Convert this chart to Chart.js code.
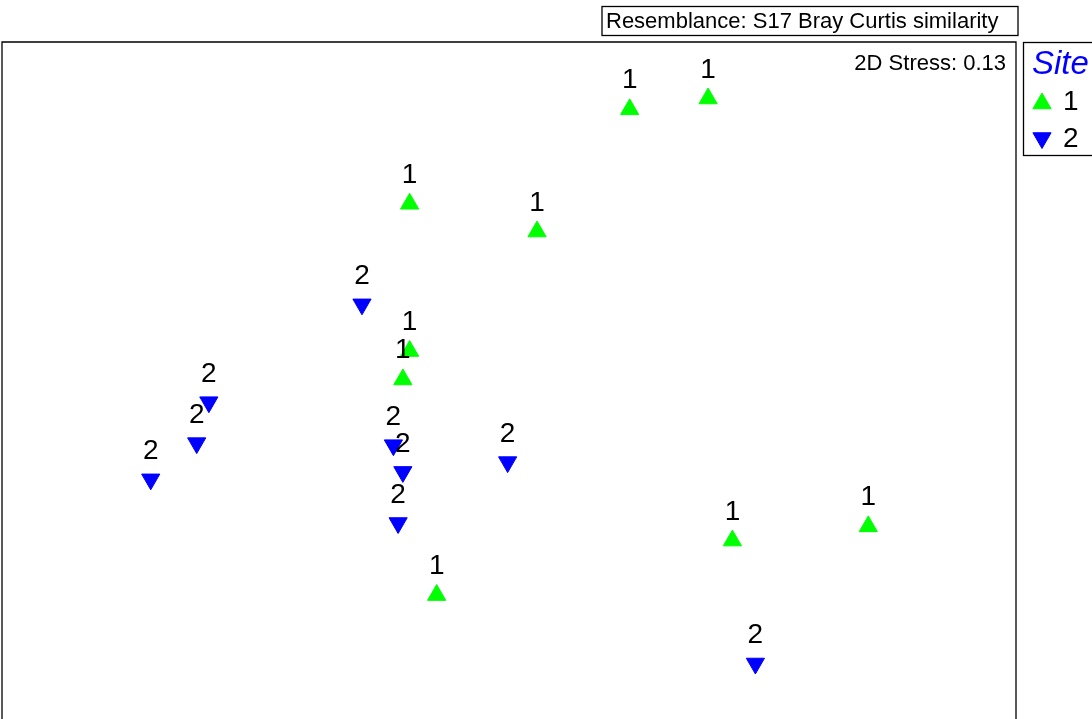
<!DOCTYPE html>
<html>
<head>
<meta charset="utf-8">
<script src="https://cdn.jsdelivr.net/npm/chart.js@4.4.0/dist/chart.umd.min.js"></script>
<style>
  body { margin: 0; background: #fff; }
  canvas { display: block; }
</style>
</head>
<body>
<canvas id="mds-chart" width="1092" height="719"></canvas>
<script>
// nMDS ordination, two sites
var siteNames = ['1', '2'];

// Site 1 coordinates (MDS1, MDS2)
var site1X = [0.357, 0.589, -0.294, 0.083, -0.294, -0.314, 0.661, 1.063, -0.214];
var site1Y = [0.801, 0.833, 0.522, 0.440, 0.087, 0.003, -0.473, -0.431, -0.634];

// Site 2 coordinates
var site2X = [-0.435, -0.888, -0.924, -1.060, -0.342, -0.314, -0.004, -0.328, 0.729];
var site2Y = [0.225, -0.064, -0.185, -0.292, -0.191, -0.270, -0.241, -0.421, -0.836];

var titleText = 'Resemblance: S17 Bray Curtis similarity';
var stressText = '2D Stress: 0.13';
var legendTitle = 'Site';

var FONT = '"Liberation Sans", Arial, sans-serif';
var green = '#00ff00';
var blue = '#0000ff';

function toPoints(xs, ys) {
  return xs.map((xVal, i) => ({ x: xVal, y: ys[i] }));
}

// Draw a triangle marker outside the chart area (legend)
function marker(ctx, x, y, rot, colour) {
  ctx.save();
  ctx.fillStyle = colour;
  ctx.strokeStyle = colour;
  ctx.lineWidth = 1;
  Chart.helpers.drawPoint(ctx, { pointStyle: 'triangle', rotation: rot, radius: 10.5, borderWidth: 1 }, x, y);
  ctx.restore();
}

var decorPlugin = {
  id: 'decor',
  afterDatasetsDraw: function (chart) {
    var ctx = chart.ctx;
    // point labels above each marker
    ctx.save();
    ctx.font = '28px ' + FONT;
    ctx.fillStyle = '#000';
    ctx.textAlign = 'center';
    ctx.textBaseline = 'alphabetic';
    chart.data.datasets.forEach((ds, di) => {
      var meta = chart.getDatasetMeta(di);
      meta.data.forEach((pt) => {
        ctx.fillText(ds.label, pt.x, pt.y - (di == 0 ? 21 : 20));
      });
    });
    ctx.restore();
  },
  afterDraw: function (chart) {
    var ctx = chart.ctx;
    var a = chart.chartArea;
    ctx.save();
    ctx.strokeStyle = '#000';
    ctx.lineWidth = 1.3;

    // plot frame (bottom edge is off the page)
    ctx.beginPath();
    ctx.moveTo(a.left, a.bottom + 2);
    ctx.lineTo(a.left, a.top);
    ctx.lineTo(a.right, a.top);
    ctx.lineTo(a.right, a.bottom + 2);
    ctx.stroke();

    // resemblance box
    ctx.strokeRect(602, 6.5, 416, 29);
    ctx.fillStyle = '#000';
    ctx.font = '22px ' + FONT;
    ctx.textAlign = 'left';
    ctx.fillText(titleText, 606, 28);

    // stress
    ctx.textAlign = 'right';
    ctx.fillText(stressText, 1006, 70);

    // legend
    ctx.strokeRect(1023.5, 42.5, 100, 113);
    ctx.textAlign = 'left';
    ctx.fillStyle = blue;
    ctx.font = 'italic 33px ' + FONT;
    ctx.fillText(legendTitle, 1032, 74);
    ctx.font = '28px ' + FONT;
    marker(ctx, 1042, 103.5, 0, green);
    ctx.fillStyle = '#000';
    ctx.fillText(siteNames[0], 1063, 110);
    marker(ctx, 1042, 138, 180, blue);
    ctx.fillStyle = '#000';
    ctx.fillText(siteNames[1], 1063, 147);
    ctx.restore();
  }
};

var ctx = document.getElementById('mds-chart').getContext('2d');
var mdsChart = new Chart(ctx, {
  type: 'scatter',
  data: {
    datasets: [
      {
        label: siteNames[0],
        data: toPoints(site1X, site1Y),
        pointStyle: 'triangle',
        rotation: 0,
        radius: 10.5,
        borderWidth: 1,
        backgroundColor: green,
        borderColor: green
      },
      {
        label: siteNames[1],
        data: toPoints(site2X, site2Y),
        pointStyle: 'triangle',
        rotation: 180,
        radius: 10.5,
        borderWidth: 1,
        backgroundColor: blue,
        borderColor: blue
      }
    ]
  },
  options: {
    responsive: false,
    animation: false,
    events: [],
    layout: {
      autoPadding: false,
      padding: { left: 2, top: 42, right: 76, bottom: 0 }
    },
    scales: {
      x: { display: false, min: -1.5, max: 1.5 },
      y: { display: false, min: -1, max: 1 }
    },
    plugins: {
      legend: { display: false },
      tooltip: { enabled: false }
    }
  },
  plugins: [decorPlugin]
});
</script>
</body>
</html>
